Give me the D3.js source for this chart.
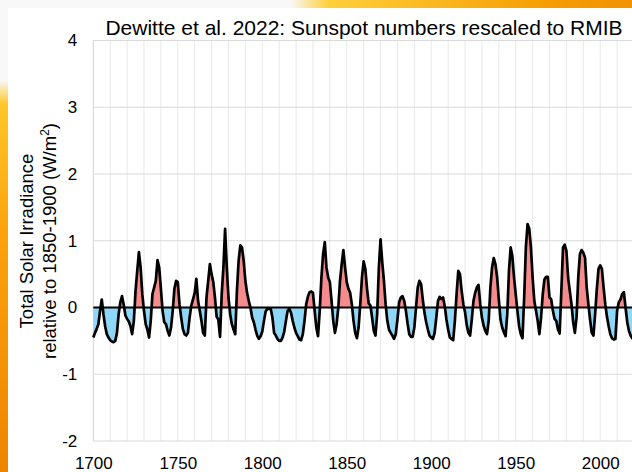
<!DOCTYPE html>
<html lang="en">
<head>
<meta charset="UTF-8">
<title>Dewitte et al. 2022: Sunspot numbers rescaled to RMIB</title>
<script src="https://d3js.org/d3.v7.min.js"></script>
<style>
    body { margin: 0; background: #f8f8f8; }
    svg { display: block; font-family: "Liberation Sans", Arial, sans-serif; }
</style>
</head>
<body>
<div id="chart"></div>
<script>
const firstYear = 1700;
const tsi1700s = [
    -0.45, -0.38, -0.32, -0.25, -0.05, 0.12, -0.10, -0.28, -0.40, -0.45,
    -0.49, -0.51, -0.52, -0.50, -0.38, -0.10, 0.08, 0.17, 0.04, -0.12,
    -0.17, -0.21, -0.28, -0.40, -0.20, 0.25, 0.55, 0.83, 0.60, 0.20,
    -0.05, -0.25, -0.33, -0.45, -0.20, 0.20, 0.30, 0.40, 0.71, 0.60,
    0.28, -0.05, -0.22, -0.25, -0.35, -0.42, -0.30, -0.05, 0.28, 0.40,
    0.38, 0.05, -0.15, -0.32, -0.40, -0.42, -0.38, -0.15, 0.03, 0.12,
    0.22, 0.43, 0.10, -0.05, -0.20, -0.38, -0.42, 0.15, 0.40, 0.65,
    0.50, 0.38, 0.15, -0.14, -0.18, -0.44, 0.20, 0.60, 1.18, 0.60,
    0.15, -0.10, -0.25, -0.33, -0.40, 0.25, 0.70, 0.93, 0.90, 0.70,
    0.40, 0.22, 0.10, 0.00, -0.15, -0.22, -0.33, -0.42, -0.47, -0.43
];
const tsi1800s = [
    -0.36, -0.20, -0.06, -0.02, -0.02, -0.02, -0.15, -0.38, -0.42, -0.47,
    -0.50, -0.50, -0.45, -0.36, -0.20, -0.05, -0.02, -0.08, -0.20, -0.30,
    -0.38, -0.43, -0.48, -0.49, -0.40, -0.20, 0.05, 0.16, 0.23, 0.24,
    0.22, -0.05, -0.30, -0.43, -0.05, 0.45, 0.80, 0.98, 0.60, 0.45,
    0.38, 0.10, -0.20, -0.38, -0.25, 0.00, 0.40, 0.65, 0.86, 0.60,
    0.38, 0.28, 0.22, 0.05, -0.20, -0.38, -0.46, -0.30, 0.05, 0.45,
    0.69, 0.58, 0.28, 0.06, 0.03, -0.15, -0.35, -0.42, -0.10, 0.60,
    1.02, 0.68, 0.40, 0.05, -0.20, -0.33, -0.38, -0.42, -0.47, -0.40,
    -0.18, 0.08, 0.15, 0.17, 0.10, -0.05, -0.24, -0.40, -0.44, -0.44,
    -0.30, 0.00, 0.30, 0.40, 0.35, 0.12, -0.08, -0.22, -0.33, -0.42
];
const tsi1900s = [
    -0.45, -0.47, -0.38, -0.15, 0.10, 0.16, 0.13, 0.15, 0.02, -0.18,
    -0.33, -0.45, -0.47, -0.49, -0.20, 0.20, 0.55, 0.50, 0.25, 0.05,
    -0.07, -0.26, -0.38, -0.42, -0.18, 0.10, 0.22, 0.30, 0.34, 0.05,
    -0.15, -0.27, -0.35, -0.40, -0.20, 0.30, 0.60, 0.74, 0.65, 0.45,
    0.12, -0.18, -0.30, -0.37, -0.43, -0.10, 0.55, 0.90, 0.77, 0.45,
    0.20, -0.05, -0.28, -0.40, -0.46, 0.15, 0.90, 1.25, 1.18, 0.90,
    0.45, 0.10, -0.05, -0.20, -0.40, -0.15, 0.20, 0.42, 0.46, 0.46,
    0.15, 0.12, -0.05, -0.17, -0.20, -0.33, -0.39, 0.25, 0.90, 0.94,
    0.85, 0.45, 0.25, 0.05, -0.22, -0.38, -0.15, 0.45, 0.80, 0.86,
    0.82, 0.75, 0.30, 0.05, -0.18, -0.38, -0.42, -0.10, 0.28, 0.58
];
const tsi2000s = [
    0.63, 0.58, 0.30, 0.05, -0.14, -0.28, -0.40, -0.46, -0.48, -0.47,
    -0.05, 0.08, 0.12, 0.20, 0.23, 0.00, -0.22, -0.35, -0.42, -0.46,
    -0.45
];
const xTicks = [1700, 1750, 1800, 1850, 1900, 1950, 2000];
const yTicks = [-2, -1, 0, 1, 2, 3, 4];
const titleText = "Dewitte et al. 2022: Sunspot numbers rescaled to RMIB";
const yTitleLines = ["Total Solar Irradiance", "relative to 1850-1900 (W/m"];

const data = [].concat(tsi1700s, tsi1800s, tsi1900s, tsi2000s)
    .map((v, i) => ({ year: firstYear + i, value: v }));

const W = 632, H = 472;
const plotLeft = 93.3, plotTop = 40.5, plotBottom = 441, plotRight = 634;

const svg = d3.select("#chart").append("svg")
    .attr("width", W)
    .attr("height", H);

// slide decoration round the white panel
const defs = svg.append("defs");
const leftGrad = defs.append("linearGradient").attr("id", "leftGrad")
    .attr("x1", 0).attr("y1", 0).attr("x2", 0).attr("y2", 1);
[[0, "#f8f8f8"], [0.17, "#f8f8f8"], [0.22, "#ffc629"], [0.5, "#fba20c"], [1, "#ee8400"]]
    .forEach(s => leftGrad.append("stop").attr("offset", s[0]).attr("stop-color", s[1]));
const topGrad = defs.append("linearGradient").attr("id", "topGrad")
    .attr("x1", 0).attr("y1", 0).attr("x2", 1).attr("y2", 0);
[[0, "#f8f8f8"], [0.46, "#f8f8f8"], [0.52, "#ffcf3a"], [0.88, "#f59c00"], [1, "#f29200"]]
    .forEach(s => topGrad.append("stop").attr("offset", s[0]).attr("stop-color", s[1]));

svg.append("rect").attr("width", W).attr("height", H).attr("fill", "#f8f8f8");
svg.append("rect").attr("width", 8).attr("height", H).attr("fill", "url(#leftGrad)");
svg.append("rect").attr("width", W).attr("height", 8).attr("fill", "url(#topGrad)");
svg.append("rect").attr("x", 8).attr("y", 8).attr("width", W - 8).attr("height", H - 8).attr("fill", "#fff");

const x = d3.scaleLinear().domain([1700, 2020]).range([plotLeft, plotRight]);
const y = d3.scaleLinear().domain([-2, 4]).range([plotBottom, plotTop]);

// grid
svg.append("g")
    .selectAll("line")
    .data(d3.range(1700, 2021, 10))
    .join("line")
    .attr("x1", d => x(d)).attr("x2", d => x(d))
    .attr("y1", plotTop).attr("y2", plotBottom)
    .attr("stroke", d => d === 1700 ? "#d4d4d4" : "#e8e8e8")
    .attr("stroke-width", 1);

svg.append("g")
    .selectAll("line")
    .data(yTicks.filter(d => d !== 0))
    .join("line")
    .attr("x1", plotLeft).attr("x2", plotRight)
    .attr("y1", d => y(d)).attr("y2", d => y(d))
    .attr("stroke", "#d9d9d9")
    .attr("stroke-width", 1.2);

// fills: red above zero, blue below
defs.append("clipPath").attr("id", "above")
    .append("rect").attr("x", 0).attr("y", 0).attr("width", W).attr("height", y(0));
defs.append("clipPath").attr("id", "below")
    .append("rect").attr("x", 0).attr("y", y(0)).attr("width", W).attr("height", H - y(0));

const area = d3.area()
    .x(d => x(d.year))
    .y0(y(0))
    .y1(d => y(d.value));

svg.append("path").datum(data)
    .attr("d", area)
    .attr("fill", "#f48c8e")
    .attr("clip-path", "url(#above)");
svg.append("path").datum(data)
    .attr("d", area)
    .attr("fill", "#8ed7f7")
    .attr("clip-path", "url(#below)");

svg.append("line")
    .attr("x1", plotLeft).attr("x2", plotRight)
    .attr("y1", y(0)).attr("y2", y(0))
    .attr("stroke", "#000")
    .attr("stroke-width", 2);

const line = d3.line()
    .x(d => x(d.year))
    .y(d => y(d.value));

svg.append("path").datum(data)
    .attr("d", line)
    .attr("fill", "none")
    .attr("stroke", "#000")
    .attr("stroke-width", 2.7)
    .attr("stroke-linejoin", "round");

// axes (plain hyphen for negatives, as in the original)
const yAxis = svg.append("g")
    .attr("transform", `translate(${plotLeft},0)`)
    .call(d3.axisLeft(y).tickValues(yTicks).tickFormat(d => String(d)).tickSize(0).tickPadding(16));
const xAxis = svg.append("g")
    .attr("transform", `translate(0,${plotBottom})`)
    .call(d3.axisBottom(x).tickValues(xTicks).tickFormat(d => String(d)).tickSize(0).tickPadding(16));
[yAxis, xAxis].forEach(g => {
    g.select(".domain").remove();
    g.selectAll("text")
        .attr("fill", "#000")
        .style("font-size", "17px")
        .style("font-family", "'Liberation Sans', Arial, sans-serif");
});

svg.append("text")
    .attr("x", 364)
    .attr("y", 34.5)
    .attr("text-anchor", "middle")
    .style("font-size", "21px")
    .text(titleText);

const yTitle = svg.append("g")
    .attr("transform", "translate(0,241) rotate(-90)")
    .attr("text-anchor", "middle")
    .style("font-size", "18.5px");
yTitle.append("text").attr("y", 32.5).text(yTitleLines[0]);
const t2 = yTitle.append("text").attr("y", 56).text(yTitleLines[1]);
t2.append("tspan").attr("dy", -7).style("font-size", "12px").text("2");
t2.append("tspan").attr("dy", 7).text(")");
</script>
</body>
</html>
